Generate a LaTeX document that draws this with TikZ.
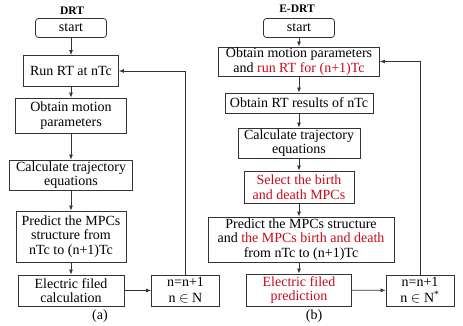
\documentclass[tikz,border=0pt]{standalone}
\usepackage{fontspec}
\setmainfont{Liberation Serif}
\usetikzlibrary{arrows.meta,positioning,calc}
\definecolor{hl}{RGB}{200,10,25}

\begin{document}
\begin{tikzpicture}[x=1pt,y=-1pt,
				box/.style={draw=black!80,line width=0.8pt,align=center,inner sep=1pt,font=\fontsize{14}{14.5}\selectfont},
				sbox/.style={box,rounded corners=3pt,minimum width=71pt,minimum height=19pt},
				nbox/.style={box,minimum width=68pt,minimum height=31pt,font=\fontsize{14}{16}\selectfont},
				ttl/.style={font=\fontsize{11.5}{13}\selectfont\bfseries},
				arr/.style={-{Latex[length=5pt,width=4pt]},line width=0.8pt,draw=black!80},
				lab/.style={font=\fontsize{14}{14.5}\selectfont}
				]
				\useasboundingbox (0,0) rectangle (463,326);
				% DRT
				\node[ttl] (drt) at (72,11) {DRT};
				\node[sbox] (st1) at (71,28) {start};
				\node[box,minimum width=95pt,minimum height=31pt] (run1) at (71,71) {Run RT at nTc};
				\node[box,minimum width=111pt,minimum height=35pt] (mot1) at (71,115.5) {Obtain motion\\parameters};
				\node[box,minimum width=123pt,minimum height=30pt] (traj1) at (71,175) {Calculate trajectory\\equations};
				\node[box,minimum width=110pt,minimum height=51pt] (pred1) at (71,236.5) {Predict the MPCs\\structure from\\nTc to (n+1)Tc};
				\node[box,minimum width=106pt,minimum height=31pt] (ef1) at (71,290.5) {Electric filed\\calculation};
				\node[nbox] (inc1) at (185.5,290.5) {n=n+1\\n $\in$ N};
				\node[lab] (capa) at (100,316) {(a)};
				\draw[arr] (st1) -- (run1);
				\draw[arr] (run1) -- (mot1);
				\draw[arr] (mot1) -- (traj1);
				\draw[arr] (traj1) -- (pred1);
				\draw[arr] (pred1) -- (ef1);
				\draw[arr] (ef1) -- (inc1);
				\draw[arr] (inc1.north) |- (run1.east);
				
				% E-DRT
				\node[ttl] (edrt) at (297,9) {E-DRT};
				\node[sbox] (st2) at (299,28) {start};
				\node[box,minimum width=161pt,minimum height=29pt] (mot2) at (299,61.5) {Obtain motion parameters\\and \textcolor{hl}{run RT for (n+1)Tc}};
				\node[box,minimum width=148pt,minimum height=20pt] (res2) at (299,103) {Obtain RT results of nTc};
				\node[box,minimum width=122pt,minimum height=30pt] (traj2) at (299,143) {Calculate trajectory\\equations};
				\node[box,minimum width=110pt,minimum height=32pt,text=hl] (sel2) at (299,187) {Select the birth\\and death MPCs};
				\node[box,minimum width=186pt,minimum height=45pt] (pred2) at (301,239.5) {Predict the MPCs structure\\and \textcolor{hl}{the MPCs birth and death}\\from nTc to (n+1)Tc};
				\node[box,minimum width=105pt,minimum height=32pt,text=hl] (ef2) at (299,290) {Electric filed\\prediction};
				\node[nbox] (inc2) at (420,290.5) {n=n+1\\n $\in$ N\textsuperscript{*}};
				\node[lab] (capb) at (314,316) {(b)};
				\draw[arr] (st2) -- (mot2);
				\draw[arr] (mot2) -- (res2);
				\draw[arr] (res2) -- (traj2);
				\draw[arr] (traj2) -- (sel2);
				\draw[arr] (sel2) -- (sel2 |- pred2.north);
				\draw[arr] (pred2.south -| ef2) -- (ef2);
				\draw[arr] (ef2) -- (inc2);
				\draw[arr] (inc2.north) |- (mot2.east);
			\end{tikzpicture}
\end{document}
